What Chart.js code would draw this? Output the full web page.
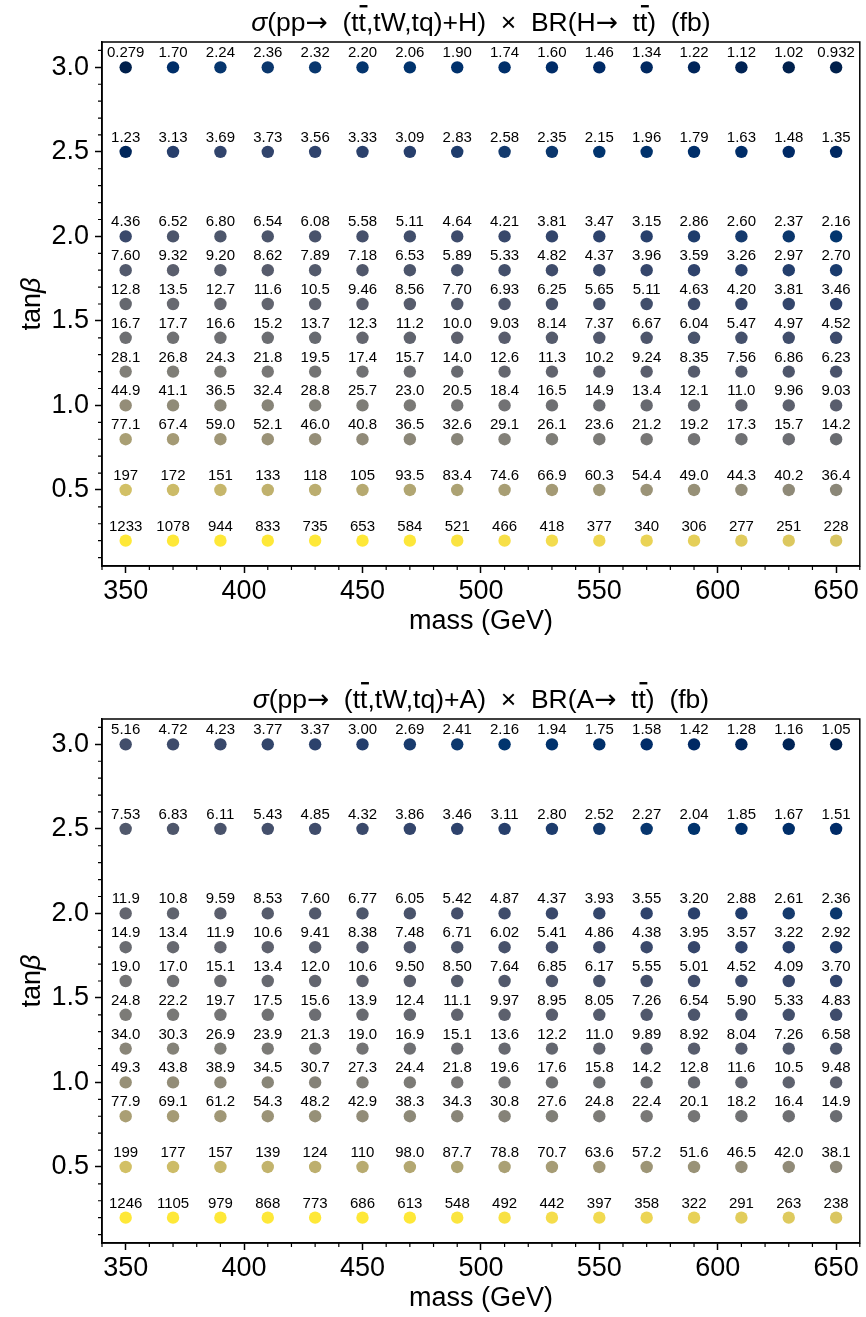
<!DOCTYPE html>
<html>
<head>
<meta charset="utf-8">
<script src="https://cdn.jsdelivr.net/npm/chart.js@4.4.1/dist/chart.umd.min.js"></script>
<style>
  body { margin: 0; background: #fff; }
  .box { position: absolute; left: 0; width: 866px; height: 640px; }
</style>
</head>
<body>
<div class="box" style="top:0"><canvas id="chartH" width="866" height="640"></canvas></div>
<div class="box" style="top:677px"><canvas id="chartA" width="866" height="640"></canvas></div>
<script>
// masses (GeV) and tan beta rows
const masses = [350, 370, 390, 410, 430, 450, 470, 490, 510, 530, 550, 570, 590, 610, 630, 650];
const tanbRows = [3.0, 2.5, 2.0, 1.8, 1.6, 1.4, 1.2, 1.0, 0.8, 0.5, 0.2];
const xTicks = [350, 400, 450, 500, 550, 600, 650];
const yTicks = [0.5, 1.0, 1.5, 2.0, 2.5, 3.0];

// sigma x BR for H (fb), one array per tan beta
const h30 = [0.279, 1.70, 2.24, 2.36, 2.32, 2.20, 2.06, 1.90, 1.74, 1.60, 1.46, 1.34, 1.22, 1.12, 1.02, 0.932];
const h25 = [1.23, 3.13, 3.69, 3.73, 3.56, 3.33, 3.09, 2.83, 2.58, 2.35, 2.15, 1.96, 1.79, 1.63, 1.48, 1.35];
const h20 = [4.36, 6.52, 6.80, 6.54, 6.08, 5.58, 5.11, 4.64, 4.21, 3.81, 3.47, 3.15, 2.86, 2.60, 2.37, 2.16];
const h18 = [7.60, 9.32, 9.20, 8.62, 7.89, 7.18, 6.53, 5.89, 5.33, 4.82, 4.37, 3.96, 3.59, 3.26, 2.97, 2.70];
const h16 = [12.8, 13.5, 12.7, 11.6, 10.5, 9.46, 8.56, 7.70, 6.93, 6.25, 5.65, 5.11, 4.63, 4.20, 3.81, 3.46];
const h14 = [16.7, 17.7, 16.6, 15.2, 13.7, 12.3, 11.2, 10.0, 9.03, 8.14, 7.37, 6.67, 6.04, 5.47, 4.97, 4.52];
const h12 = [28.1, 26.8, 24.3, 21.8, 19.5, 17.4, 15.7, 14.0, 12.6, 11.3, 10.2, 9.24, 8.35, 7.56, 6.86, 6.23];
const h10 = [44.9, 41.1, 36.5, 32.4, 28.8, 25.7, 23.0, 20.5, 18.4, 16.5, 14.9, 13.4, 12.1, 11.0, 9.96, 9.03];
const h08 = [77.1, 67.4, 59.0, 52.1, 46.0, 40.8, 36.5, 32.6, 29.1, 26.1, 23.6, 21.2, 19.2, 17.3, 15.7, 14.2];
const h05 = [197, 172, 151, 133, 118, 105, 93.5, 83.4, 74.6, 66.9, 60.3, 54.4, 49.0, 44.3, 40.2, 36.4];
const h02 = [1233, 1078, 944, 833, 735, 653, 584, 521, 466, 418, 377, 340, 306, 277, 251, 228];

// sigma x BR for A (fb)
const a30 = [5.16, 4.72, 4.23, 3.77, 3.37, 3.00, 2.69, 2.41, 2.16, 1.94, 1.75, 1.58, 1.42, 1.28, 1.16, 1.05];
const a25 = [7.53, 6.83, 6.11, 5.43, 4.85, 4.32, 3.86, 3.46, 3.11, 2.80, 2.52, 2.27, 2.04, 1.85, 1.67, 1.51];
const a20 = [11.9, 10.8, 9.59, 8.53, 7.60, 6.77, 6.05, 5.42, 4.87, 4.37, 3.93, 3.55, 3.20, 2.88, 2.61, 2.36];
const a18 = [14.9, 13.4, 11.9, 10.6, 9.41, 8.38, 7.48, 6.71, 6.02, 5.41, 4.86, 4.38, 3.95, 3.57, 3.22, 2.92];
const a16 = [19.0, 17.0, 15.1, 13.4, 12.0, 10.6, 9.50, 8.50, 7.64, 6.85, 6.17, 5.55, 5.01, 4.52, 4.09, 3.70];
const a14 = [24.8, 22.2, 19.7, 17.5, 15.6, 13.9, 12.4, 11.1, 9.97, 8.95, 8.05, 7.26, 6.54, 5.90, 5.33, 4.83];
const a12 = [34.0, 30.3, 26.9, 23.9, 21.3, 19.0, 16.9, 15.1, 13.6, 12.2, 11.0, 9.89, 8.92, 8.04, 7.26, 6.58];
const a10 = [49.3, 43.8, 38.9, 34.5, 30.7, 27.3, 24.4, 21.8, 19.6, 17.6, 15.8, 14.2, 12.8, 11.6, 10.5, 9.48];
const a08 = [77.9, 69.1, 61.2, 54.3, 48.2, 42.9, 38.3, 34.3, 30.8, 27.6, 24.8, 22.4, 20.1, 18.2, 16.4, 14.9];
const a05 = [199, 177, 157, 139, 124, 110, 98.0, 87.7, 78.8, 70.7, 63.6, 57.2, 51.6, 46.5, 42.0, 38.1];
const a02 = [1246, 1105, 979, 868, 773, 686, 613, 548, 492, 442, 397, 358, 322, 291, 263, 238];

const FONT = '"Liberation Sans", Arial, Helvetica, sans-serif';

// cividis colormap (log scale, clipped)
const civ = [[0,32,76],[0,42,102],[0,52,110],[39,63,108],[60,74,107],[76,85,107],[91,95,109],
  [104,106,112],[117,117,117],[131,129,120],[146,140,120],[161,152,118],[176,165,114],
  [192,177,109],[209,191,102],[225,204,92],[243,219,79],[254,232,56]];
const vmin = 1, vmax = 600;
function cividis(v) {
  let t = (Math.log(v) - Math.log(vmin)) / (Math.log(vmax) - Math.log(vmin));
  t = Math.max(0, Math.min(1, t));
  const p = t * (civ.length - 1);
  const i = Math.min(Math.floor(p), civ.length - 2);
  const f = p - i;
  const c = civ[i].map((a, k) => Math.round(a + (civ[i + 1][k] - a) * f));
  return `rgb(${c[0]},${c[1]},${c[2]})`;
}

const fmt = v => v >= 100 ? String(Math.round(v)) : v.toPrecision(3);

function makeDatasets(rows) {
  return rows.map((vals, r) => ({
    data: vals.map((v, i) => ({ x: masses[i], y: tanbRows[r], v: v })),
    backgroundColor: vals.map(cividis),
    pointRadius: 6.2,
    pointBorderWidth: 0,
    showLine: false
  }));
}

function partFont(p, size) {
  return (p.it ? 'italic ' : '') + size + 'px ' + (p.arrow ? '"DejaVu Sans", ' : '') + FONT;
}

function drawRich(ctx, parts, x0, y, size, align) {
  let w = 0;
  parts.forEach(p => {
    ctx.font = partFont(p, size);
    p.w = ctx.measureText(p.t).width;
    w += p.w;
  });
  let x = align === 'center' ? x0 - w / 2 : x0;
  ctx.textAlign = 'left';
  ctx.textBaseline = 'alphabetic';
  parts.forEach(p => {
    ctx.font = partFont(p, size);
    ctx.fillText(p.t, x, y);
    if (p.bar) {
      ctx.fillRect(x + 1, y - size * 0.98, p.w + 0.5, 2.4);
    }
    x += p.w;
  });
}

const decor = {
  id: 'decor',
  afterDatasetsDraw(chart) {
    const ctx = chart.ctx;
    const area = chart.chartArea;
    const xs = chart.scales.x, ys = chart.scales.y;
    ctx.save();
    ctx.fillStyle = '#000';
    // value labels above each marker
    ctx.font = '15px ' + FONT;
    ctx.textAlign = 'center';
    ctx.textBaseline = 'alphabetic';
    chart.data.datasets.forEach((ds, d) => {
      chart.getDatasetMeta(d).data.forEach((el, i) => {
        ctx.fillText(fmt(ds.data[i].v), el.x, el.y - 10);
      });
    });
    // frame
    ctx.strokeStyle = '#000';
    ctx.lineWidth = 1.5;
    ctx.strokeRect(area.left, area.top, area.right - area.left, area.bottom - area.top);
    // minor ticks
    ctx.lineWidth = 1.2;
    ctx.beginPath();
    for (let m = 340; m <= 660; m += 10) {
      if (m % 50 === 0) continue;
      const px = xs.getPixelForValue(m);
      ctx.moveTo(px, area.bottom); ctx.lineTo(px, area.bottom + 4);
    }
    for (let k = 1; k <= 31; k++) {
      if (k % 5 === 0) continue;
      const py = ys.getPixelForValue(k / 10);
      ctx.moveTo(area.left, py); ctx.lineTo(area.left - 4, py);
    }
    ctx.stroke();
    // title
    const cfg = chart.options.plugins.richTitle;
    drawRich(ctx, cfg.parts, (area.left + area.right) / 2, area.top - 11, 26.5, 'center');
    // y axis title
    ctx.translate(30, (area.top + area.bottom) / 2);
    ctx.rotate(-Math.PI / 2);
    drawRich(ctx, [{ t: 'tan' }, { t: 'β', it: true }], 0, 10, 27, 'center');
    ctx.restore();
  }
};

function titleParts(b) {
  return [
    { t: 'σ', it: true },
    { t: '(pp' },
    { t: '→', arrow: true },
    { t: '  (t' },
    { t: 't', bar: true },
    { t: ',tW,tq)+' + b + ')  ×  BR(' + b },
    { t: '→', arrow: true },
    { t: '  t' },
    { t: 't', bar: true },
    { t: ')  (fb)' }
  ];
}

function makeChart(id, rows, boson) {
  new Chart(document.getElementById(id), {
    type: 'scatter',
    data: { datasets: makeDatasets(rows) },
    plugins: [decor],
    options: {
      responsive: false,
      animation: false,
      events: [],
      devicePixelRatio: 1,
      layout: { padding: { top: 42, right: 2, bottom: 0, left: 0 } },
      plugins: {
        legend: { display: false },
        tooltip: { enabled: false },
        richTitle: { parts: titleParts(boson) }
      },
      scales: {
        x: {
          type: 'linear', min: 340, max: 660,
          afterBuildTicks: s => { s.ticks = xTicks.map(v => ({ value: v })); },
          afterFit: s => { s.height = 74; },
          ticks: { color: '#000', font: { family: FONT, size: 27 }, padding: 2, maxRotation: 0 },
          grid: { drawOnChartArea: false, tickLength: 7, tickWidth: 1.5, tickColor: '#000' },
          border: { color: '#000', width: 1.5 },
          title: { display: true, text: 'mass (GeV)', color: '#000', font: { family: FONT, size: 27 }, padding: { top: 0, bottom: 2 } }
        },
        y: {
          type: 'linear', min: 0.05, max: 3.15,
          afterBuildTicks: s => { s.ticks = yTicks.map(v => ({ value: v })); },
          afterFit: s => { s.width = 102; },
          ticks: { color: '#000', font: { family: FONT, size: 27 }, padding: 6, callback: v => v.toFixed(1) },
          grid: { drawOnChartArea: false, tickLength: 7, tickWidth: 1.5, tickColor: '#000' },
          border: { color: '#000', width: 1.5 }
        }
      }
    }
  });
}

makeChart('chartH', [h30, h25, h20, h18, h16, h14, h12, h10, h08, h05, h02], 'H');
makeChart('chartA', [a30, a25, a20, a18, a16, a14, a12, a10, a08, a05, a02], 'A');
</script>
</body>
</html>
